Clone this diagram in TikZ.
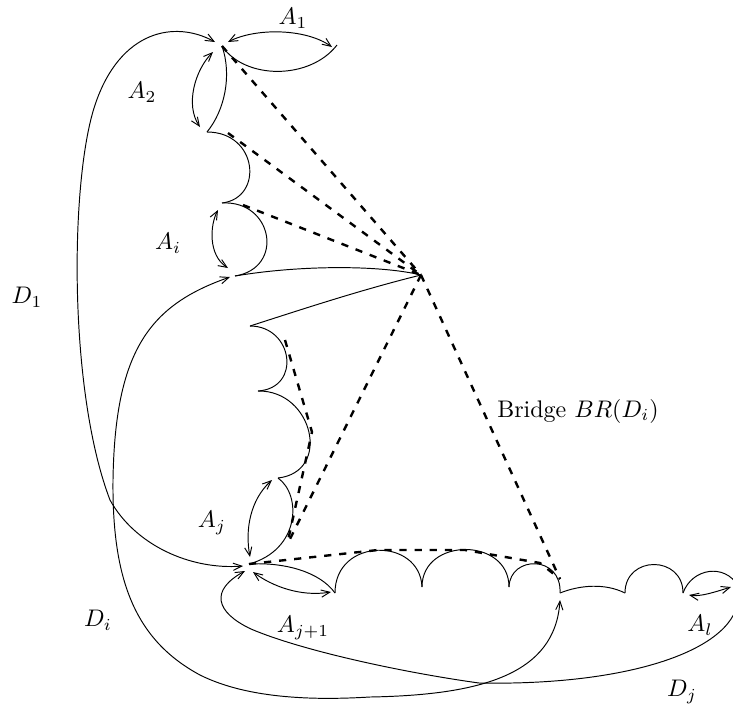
\documentclass[tikz,border=0pt]{standalone}
\usetikzlibrary{arrows.meta}
\begin{document}
\begin{tikzpicture}[x=0.41667pt,y=-0.41667pt,
  >={Straight Barb[length=3.6pt,width=3pt]},
  edge/.style={line width=0.4pt},
  dashline/.style={line width=1pt,dash pattern=on 3pt off 3.3pt},
  lbl/.style={inner sep=0pt}]
\useasboundingbox (0,0) rectangle (733,709);
% vertices
\coordinate (P1) at (222,46);
\coordinate (A1e) at (337,45);
\coordinate (P2) at (207,132);
\coordinate (P3) at (222,203);
\coordinate (P4) at (235,276);
\coordinate (H) at (421,275);
\coordinate (P5) at (250,326);
\coordinate (P6) at (258,391);
\coordinate (P7) at (278,478);
\coordinate (Pj) at (249,564);
\coordinate (Q1) at (335,593);
\coordinate (Q2) at (422,587);
\coordinate (Q3) at (509,587);
\coordinate (Q4) at (560,593);
\coordinate (Q5) at (625,593);
\coordinate (Q6) at (683,593);
\coordinate (R) at (738,586);
% upper chain
\draw[edge] (P1) .. controls (245,80) and (310,80) .. (A1e);
\draw[edge] (P1) .. controls (232,75) and (225,110) .. (P2);
\draw[edge] (P2) .. controls (258,132) and (264,198) .. (P3);
\draw[edge] (P3) .. controls (273,200) and (285,268) .. (P4);
\draw[edge] (P4) .. controls (300,265) and (380,265) .. (H);
\draw[edge] (H) .. controls (360,290) and (300,310) .. (P5);
\draw[edge] (P5) .. controls (293,326) and (302,388) .. (P6);
\draw[edge] (P6) .. controls (313,390) and (332,472) .. (P7);
\draw[edge] (P7) .. controls (302,495) and (300,550) .. (Pj);
% bottom chain
\draw[edge] (Pj) .. controls (285,562) and (320,572) .. (Q1);
\draw[edge] (Q1) .. controls (335,537) and (420,537) .. (Q2);
\draw[edge] (Q2) .. controls (422,537) and (509,537) .. (Q3);
\draw[edge] (Q3) .. controls (510,555) and (562,555) .. (Q4);
\draw[edge] (Q4) .. controls (580,585) and (605,583) .. (Q5);
\draw[edge] (Q5) .. controls (625,555) and (683,555) .. (Q6);
\draw[edge] (Q6) .. controls (692,568) and (725,563) .. (R);
% double arrows
\coordinate (a1s) at (228,42); \coordinate (a1e) at (332,47);
\draw[edge,<->] (a1s) .. controls (255,28) and (305,28) .. (a1e);
\coordinate (a2s) at (213,52); \coordinate (a2e) at (200,127);
\draw[edge,<->] (a2s) .. controls (195,70) and (185,105) .. (a2e);
\coordinate (ais) at (218,210); \coordinate (aie) at (228,268);
\draw[edge,<->] (ais) .. controls (210,225) and (208,255) .. (aie);
\coordinate (ajs) at (272,480); \coordinate (aje) at (250,557);
\draw[edge,<->] (ajs) .. controls (250,500) and (245,530) .. (aje);
\coordinate (aj1s) at (253,572); \coordinate (aj1e) at (331,592);
\draw[edge,<->] (aj1s) .. controls (272,586) and (300,597) .. (aj1e);
\coordinate (als) at (689,595); \coordinate (ale) at (731,587);
\draw[edge,<->] (als) .. controls (700,597) and (715,592) .. (ale);
% long paths
\coordinate (d1s) at (215,42); \coordinate (d1e) at (243,566);
\draw[edge,<->] (d1s) .. controls (175,20) and (120,30) .. (95,105)
  .. controls (70,180) and (68,390) .. (110,500)
  .. controls (135,545) and (190,570) .. (d1e);
\coordinate (dis) at (230,277); \coordinate (die) at (560,600);
\draw[edge,<->] (dis) .. controls (150,305) and (115,350) .. (113,480)
  .. controls (112,580) and (135,640) .. (200,675)
  .. controls (250,700) and (320,700) .. (370,697)
  .. controls (480,695) and (555,675) .. (die);
\coordinate (djs) at (738,590); \coordinate (dje) at (245,571);
\draw[edge,->] (djs) .. controls (746,645) and (640,686) .. (479,683)
  .. controls (400,672) and (300,650) .. (251,629)
  .. controls (215,612) and (210,590) .. (dje);
% dashed bridge lines
\coordinate (b2) at (228,133);
\coordinate (b3) at (243,205);
\coordinate (b5) at (285,340);
\coordinate (b6) at (312,432);
\coordinate (bj) at (287,545);
\coordinate (bq) at (560,579);
\draw[dashline] (P1) -- (H);
\draw[dashline] (b2) -- (H);
\draw[dashline] (b3) -- (H);
\draw[dashline] (H) -- (bj);
\draw[dashline] (b5) -- (b6) -- (bj);
\draw[dashline] (H) -- (bq);
\draw[dashline] (Pj) -- (378,550) -- (465,550) -- (540,563) -- (bq);
% labels
\node[lbl] (lA1) at (293,18) {$A_1$};
\node[lbl] (lA2) at (142,92) {$A_2$};
\node[lbl] (lAi) at (168,243) {$A_i$};
\node[lbl] (lD1) at (27,297) {$D_1$};
\node[lbl] (lDi) at (98,620) {$D_i$};
\node[lbl] (lAj) at (212,523) {$A_j$};
\node[lbl] (lAj1) at (303,628) {$A_{j+1}$};
\node[lbl] (lAl) at (700,625) {$A_l$};
\node[lbl] (lDj) at (682,692) {$D_j$};
\node[lbl] (lBr) at (578,411) {Bridge $BR(D_i)$};
\end{tikzpicture}
\end{document}
